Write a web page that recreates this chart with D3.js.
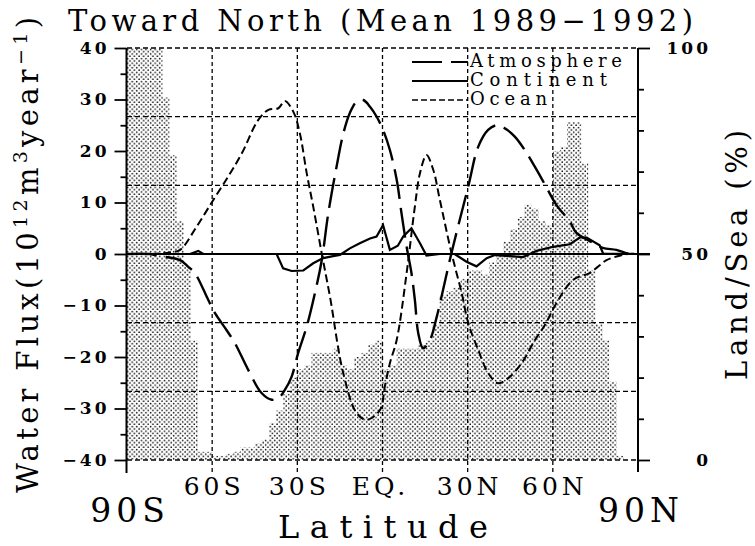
<!DOCTYPE html>
<html>
<head>
<meta charset="utf-8">
<title>Toward North water flux</title>
<style>
  body { margin: 0; background: #fff; }
  text { font-family: "DejaVu Serif", serif; fill: #000; }
  .grid { stroke: #000; stroke-width: 1.3; fill: none; }
  .flux { fill: none; stroke: #000; }
</style>
</head>
<body>
<svg id="chart" width="755" height="546" viewBox="0 0 755 546"></svg>
<script src="https://d3js.org/d3.v7.min.js"></script>
<script>
// land fraction (%) in 2.5 degree latitude bins, 90S -> 90N
const binStart = d3.range(-90, 90, 2.5);
const landPct = [100, 100, 100, 100, 100, 88, 74, 58, 47, 29,
  2, 2, 1, 1, 1.5, 2, 3, 3, 4, 5,
  9, 12, 16, 20, 22, 23, 26, 26, 26, 27,
  23, 22, 25, 26, 28, 29, 22, 23, 27, 27,
  27, 28, 29, 33, 40, 41, 42, 44, 46, 46,
  45, 48, 50, 53, 56, 59, 62, 61, 58, 57,
  75, 76, 82, 82, 72, 46, 33, 29, 19, 1,
  0, 0];

// northward water flux (10^12 m^3/year)
const atmLat = [-90, -82, -78.4, -71.3, -68.4, -66.1, -61.4, -59, -54.9, -52, -47.3, -42.6, -39, -36.7, -34.4, -32,
  -29.7, -26.7, -23.8, -21.4, -19.1, -16.2, -13.8, -11.5, -9.1, -6.8, -4.4, -2.1, 0.2, 2.6, 5, 6.7, 8.5,
  10.2, 11.4, 12.6, 14.3, 16.7, 19.1, 24.3, 30.2, 33.7, 37.2, 40.2, 43.1, 46.6, 50.1, 53.7, 57.2, 61.3,
  66, 68.3, 73, 77.6, 82.4, 86.4, 90];
const atmFlux = [0, 0, -0.4, -1.2, -2.5, -3.7, -8.9, -11.5, -14.8, -17.3, -22.5, -27, -28.3, -28, -26.4, -23.8,
  -19.2, -14.1, -7.6, -1.2, 7.9, 16.9, 23.4, 27.4, 29.6, 29.9, 28.6, 26.7, 24.1, 20.2, 14.4, 7.9, 1.4,
  -3.7, -8.9, -15.4, -18.3, -16.7, -12.2, 0.2, 13.1, 20.8, 24.1, 25, 24.4, 22.8, 20.2, 16.9, 13.5, 9.5,
  6.3, 4.1, 2.5, 1.2, 0.8, 0.1, 0];

const conLat = [-90, -67.8, -64.9, -63.1, -37.3, -35, -32, -27.9, -24.4, -20.9, -17.4, -15, -11.5, -8, -4.4,
  -2.1, 0.2, 2.6, 5.4, 7.3, 10.2, 13.2, 15.5, 20.2, 25.4, 29.6, 33.1, 36.7, 39.6, 44.9, 49.5, 54.3,
  60.1, 66, 69.5, 71.9, 76.5, 77.7, 90];
const conFlux = [0, 0, 0.6, 0, 0, -2.8, -3.3, -3.2, -1.8, -0.8, -0.4, -0.2, 1.1, 2.1, 3,
  3.4, 5.6, 0.8, 1.6, 3.4, 5, 2.1, -0.3, 0, 0, -1.5, -2.4, -0.8, -0.2, -0.4, -0.6, 0.6,
  1.4, 1.9, 3.2, 3.2, 1.7, 0.1, 0];

const ocnLat = [-90, -82, -74.9, -71.3, -65.5, -59.6, -54.4, -49.6, -43.8, -40.2, -36.7, -34.4, -31.4, -29.1,
  -26.7, -24.4, -21.4, -18.5, -13.8, -9.1, -5.6, -0.9, 0.8, 2.6, 5, 8.5, 11.4, 13.2, 15.5, 17.9, 20.2,
  24.3, 27.9, 30.2, 33.7, 37.2, 40.7, 44.3, 49, 53.7, 57.2, 61.3, 67.2, 73, 75.8, 78.9, 82.4, 86.4, 90];
const ocnFlux = [0, 0, 0.3, 0.8, 5.3, 10.5, 15, 19.5, 26, 28, 28.3, 29.7, 27.6, 23.4,
  15.7, 9.2, 0.1, -8.3, -23.2, -30.9, -32.2, -30.3, -25.8, -21.2, -16.7, -3.7, 9.2, 15.7, 19.2, 16.3, 10.5,
  0.2, -7.6, -13.4, -18.6, -23.1, -25.1, -24.1, -21.2, -16.7, -13.8, -9.5, -5, -3.7, -2.5, -1.2, -0.5, 0, 0];

const latTicks = [-60, -30, 0, 30, 60];
const latLabels = ["60S", "30S", "EQ.", "30N", "60N"];
const poleTicks = [-90, 90];
const poleLabels = ["90S", "90N"];
const seriesNames = ["Atmosphere", "Continent", "Ocean"];

const svg = d3.select("#chart");
const x = d3.scaleLinear().domain([-90, 90]).range([127, 638]);
const y = d3.scaleLinear().domain([-40, 40]).range([460, 48]);
const yLand = d3.scaleLinear().domain([0, 100]).range([460, 48]);

// dotted fill like the printed screen tone
const pat = svg.append("defs").append("pattern")
  .attr("id", "dots").attr("patternUnits", "userSpaceOnUse")
  .attr("width", 4.6).attr("height", 4.6);
pat.append("circle").attr("cx", 1.1).attr("cy", 1.1).attr("r", 0.8).attr("fill", "#000");
pat.append("circle").attr("cx", 3.4).attr("cy", 3.4).attr("r", 0.8).attr("fill", "#000");

svg.append("g").selectAll("rect")
  .data(binStart)
  .join("rect")
  .attr("x", d => x(d))
  .attr("width", d => x(d + 2.5) - x(d))
  .attr("y", (d, i) => yLand(landPct[i]))
  .attr("height", (d, i) => yLand(0) - yLand(landPct[i]))
  .attr("fill", "url(#dots)");

// grid
const hGrid = d3.range(0, 7).map(k => -40 + k * 80 / 6).filter(v => Math.abs(v) > 1e-6);
svg.append("g").selectAll("line")
  .data(hGrid)
  .join("line")
  .attr("class", "grid")
  .attr("x1", x(-90)).attr("x2", x(90))
  .attr("y1", d => y(d)).attr("y2", d => y(d))
  .attr("stroke-dasharray", "5,3");

svg.append("g").selectAll("line")
  .data(latTicks)
  .join("line")
  .attr("class", "grid")
  .attr("x1", d => x(d)).attr("x2", d => x(d))
  .attr("y1", y(40)).attr("y2", y(-40) + 12)
  .attr("stroke-dasharray", "4,3");

// zero line
svg.append("line")
  .attr("x1", x(-90)).attr("x2", x(90) + 12)
  .attr("y1", y(0)).attr("y2", y(0))
  .attr("stroke", "#000").attr("stroke-width", 2);

// axes
const leftAxis = svg.append("g").attr("transform", `translate(${x(-90) - 0.5},0)`)
  .call(d3.axisLeft(y).tickValues(d3.range(-40, 41, 10)).tickSize(12).tickPadding(8)
    .tickFormat(d => d < 0 ? "\u2212" + Math.abs(d) : d));
svg.append("g").attr("transform", `translate(${x(-90) - 0.5},0)`)
  .call(d3.axisLeft(y).tickValues(d3.range(-35, 40, 10)).tickSize(6).tickFormat(""));

const rightAxis = svg.append("g").attr("transform", `translate(${x(90)},0)`)
  .call(d3.axisRight(yLand).tickValues([0, 50, 100]).tickSize(12).tickPadding(14));
svg.append("g").attr("transform", `translate(${x(90)},0)`)
  .call(d3.axisRight(yLand).tickValues([10, 20, 30, 40, 60, 70, 80, 90]).tickSize(6).tickFormat(""));

svg.selectAll(".domain").remove();
svg.selectAll(".tick line").attr("stroke", "#000").attr("stroke-width", 1.8);
svg.selectAll(".tick text")
  .style("font-family", "DejaVu Serif, serif")
  .style("font-size", "17px")
  .style("font-weight", "bold")
  .style("letter-spacing", "3px")
  .attr("fill", "#000");
leftAxis.selectAll(".tick text").attr("dx", 3);
// right labels are right-aligned in the original
rightAxis.selectAll(".tick text")
  .attr("text-anchor", "end")
  .attr("x", 708 - x(90) + 3);

// axis lines
svg.append("line").attr("x1", x(-90) - 0.5).attr("x2", x(-90) - 0.5)
  .attr("y1", y(40)).attr("y2", y(-40) + 13)
  .attr("stroke", "#000").attr("stroke-width", 2);
svg.append("line").attr("x1", x(90)).attr("x2", x(90))
  .attr("y1", y(40)).attr("y2", y(-40) + 12)
  .attr("stroke", "#000").attr("stroke-width", 2);

// flux curves
const smooth = d3.line().x(d => x(d[0])).y(d => y(d[1])).curve(d3.curveCatmullRom.alpha(0.5));
const jagged = d3.line().x(d => x(d[0])).y(d => y(d[1]));

svg.append("path").attr("class", "flux")
  .attr("d", smooth(d3.zip(ocnLat, ocnFlux)))
  .attr("stroke-width", 2).attr("stroke-dasharray", "8,4");
svg.append("path").attr("class", "flux")
  .attr("d", jagged(d3.zip(conLat, conFlux)))
  .attr("stroke-width", 2.2);
svg.append("path").attr("class", "flux")
  .attr("d", smooth(d3.zip(atmLat, atmFlux)))
  .attr("stroke-width", 2.4).attr("stroke-dasharray", "30,9");

// legend
const dashes = ["30,9", null, "6,3"];
const legend = svg.append("g");
seriesNames.forEach((name, i) => {
  const ly = 62 + i * 19;
  legend.append("line")
    .attr("x1", 412).attr("x2", 468).attr("y1", ly).attr("y2", ly)
    .attr("stroke", "#000").attr("stroke-width", i === 2 ? 1.6 : 2)
    .attr("stroke-dasharray", dashes[i]);
  legend.append("text")
    .attr("x", 470).attr("y", ly + 5)
    .attr("textLength", [152, 137, 77][i]).attr("lengthAdjust", "spacing")
    .style("font-size", "18px")
    .text(name);
});

// latitude labels
svg.append("g").selectAll("text")
  .data(latTicks)
  .join("text")
  .attr("x", d => x(d)).attr("y", 495)
  .attr("text-anchor", "middle")
  .attr("dx", (d, i) => i === 2 ? -2 : 2)
  .style("font-size", "25px").style("letter-spacing", "4px")
  .text((d, i) => latLabels[i]);

svg.append("g").selectAll("text")
  .data(poleTicks)
  .join("text")
  .attr("x", d => x(d)).attr("y", 522)
  .attr("text-anchor", "middle")
  .attr("dx", 3)
  .style("font-size", "33px").style("letter-spacing", "5px")
  .text((d, i) => poleLabels[i]);

svg.append("text")
  .attr("x", 278).attr("y", 538)
  .attr("textLength", 210).attr("lengthAdjust", "spacing")
  .style("font-size", "32px")
  .text("Latitude");

// title
svg.append("text")
  .attr("x", 68).attr("y", 31)
  .attr("textLength", 625).attr("lengthAdjust", "spacing")
  .style("font-size", "29px")
  .text("Toward North (Mean 1989\u22121992)");

// left axis title
const lt = svg.append("text")
  .attr("transform", "translate(38,493) rotate(-90)")
  .attr("x", 0).attr("y", 0)
  .attr("textLength", 476).attr("lengthAdjust", "spacing")
  .style("font-size", "29px");
lt.append("tspan").text("Water Flux(10");
lt.append("tspan").attr("dy", -11).style("font-size", "19px").text("12");
lt.append("tspan").attr("dy", 11).text("m");
lt.append("tspan").attr("dy", -11).style("font-size", "19px").text("3");
lt.append("tspan").attr("dy", 11).text("year");
lt.append("tspan").attr("dy", -11).style("font-size", "19px").text("\u22121");
lt.append("tspan").attr("dy", 11).text(")");

// right axis title
svg.append("text")
  .attr("transform", "translate(747,380) rotate(-90)")
  .attr("textLength", 250).attr("lengthAdjust", "spacing")
  .style("font-size", "29px")
  .text("Land/Sea (%)");
</script>
</body>
</html>
